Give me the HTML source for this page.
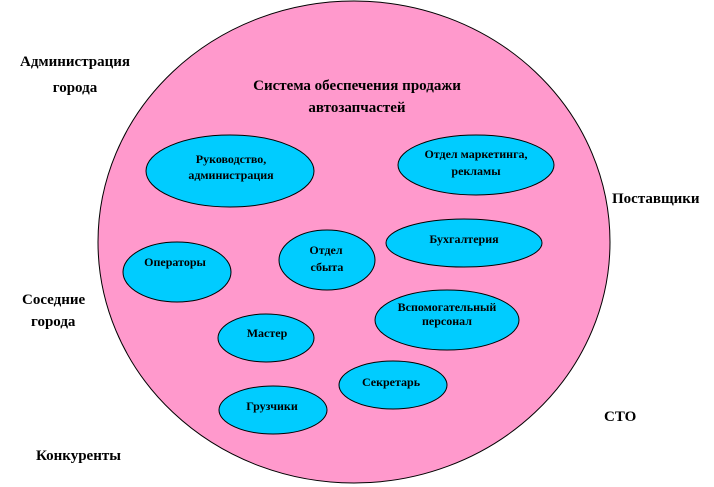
<!DOCTYPE html>
<html><head><meta charset="utf-8"><style>
html,body{margin:0;padding:0;background:#fff;}
svg{display:block;}
text{font-family:"Liberation Serif","DejaVu Serif",serif;font-weight:bold;fill:#000;}
</style></head><body>
<svg width="714" height="487" viewBox="0 0 714 487" xmlns="http://www.w3.org/2000/svg">
<ellipse cx="354" cy="242" rx="256" ry="241" fill="#FF99CC" stroke="#000" stroke-width="1"/>
<g fill="#00CCFF" stroke="#000" stroke-width="1">
<ellipse cx="230" cy="171" rx="84" ry="36"/>
<ellipse cx="476" cy="165" rx="78" ry="30"/>
<ellipse cx="464" cy="243" rx="78" ry="24"/>
<ellipse cx="177" cy="272" rx="54" ry="30"/>
<ellipse cx="327" cy="260" rx="48" ry="30"/>
<ellipse cx="447" cy="320" rx="72" ry="30"/>
<ellipse cx="266" cy="338" rx="48" ry="24"/>
<ellipse cx="393" cy="385" rx="54" ry="24"/>
<ellipse cx="273" cy="410" rx="54" ry="24"/>
</g>
<g font-size="12" text-anchor="middle">
<text x="231" y="163">Руководство,</text>
<text x="231" y="179">администрация</text>
<text x="476" y="158">Отдел маркетинга,</text>
<text x="476" y="175">рекламы</text>
<text x="464" y="243">Бухгалтерия</text>
<text x="175" y="266">Операторы</text>
<text x="326" y="254">Отдел</text>
<text x="327" y="271">сбыта</text>
<text x="447" y="311">Вспомогательный</text>
<text x="447" y="325">персонал</text>
<text x="267" y="337">Мастер</text>
<text x="391" y="386">Секретарь</text>
<text x="272" y="410">Грузчики</text>
</g>
<g font-size="15">
<text x="357" y="90" text-anchor="middle">Система обеспечения продажи</text>
<text x="357" y="112" text-anchor="middle">автозапчастей</text>
<text x="75" y="66" text-anchor="middle">Администрация</text>
<text x="75" y="92" text-anchor="middle">города</text>
<text x="612" y="203">Поставщики</text>
<text x="22" y="304">Соседние</text>
<text x="31" y="326">города</text>
<text x="604" y="421">СТО</text>
<text x="36" y="460">Конкуренты</text>
</g>
</svg>
</body></html>
